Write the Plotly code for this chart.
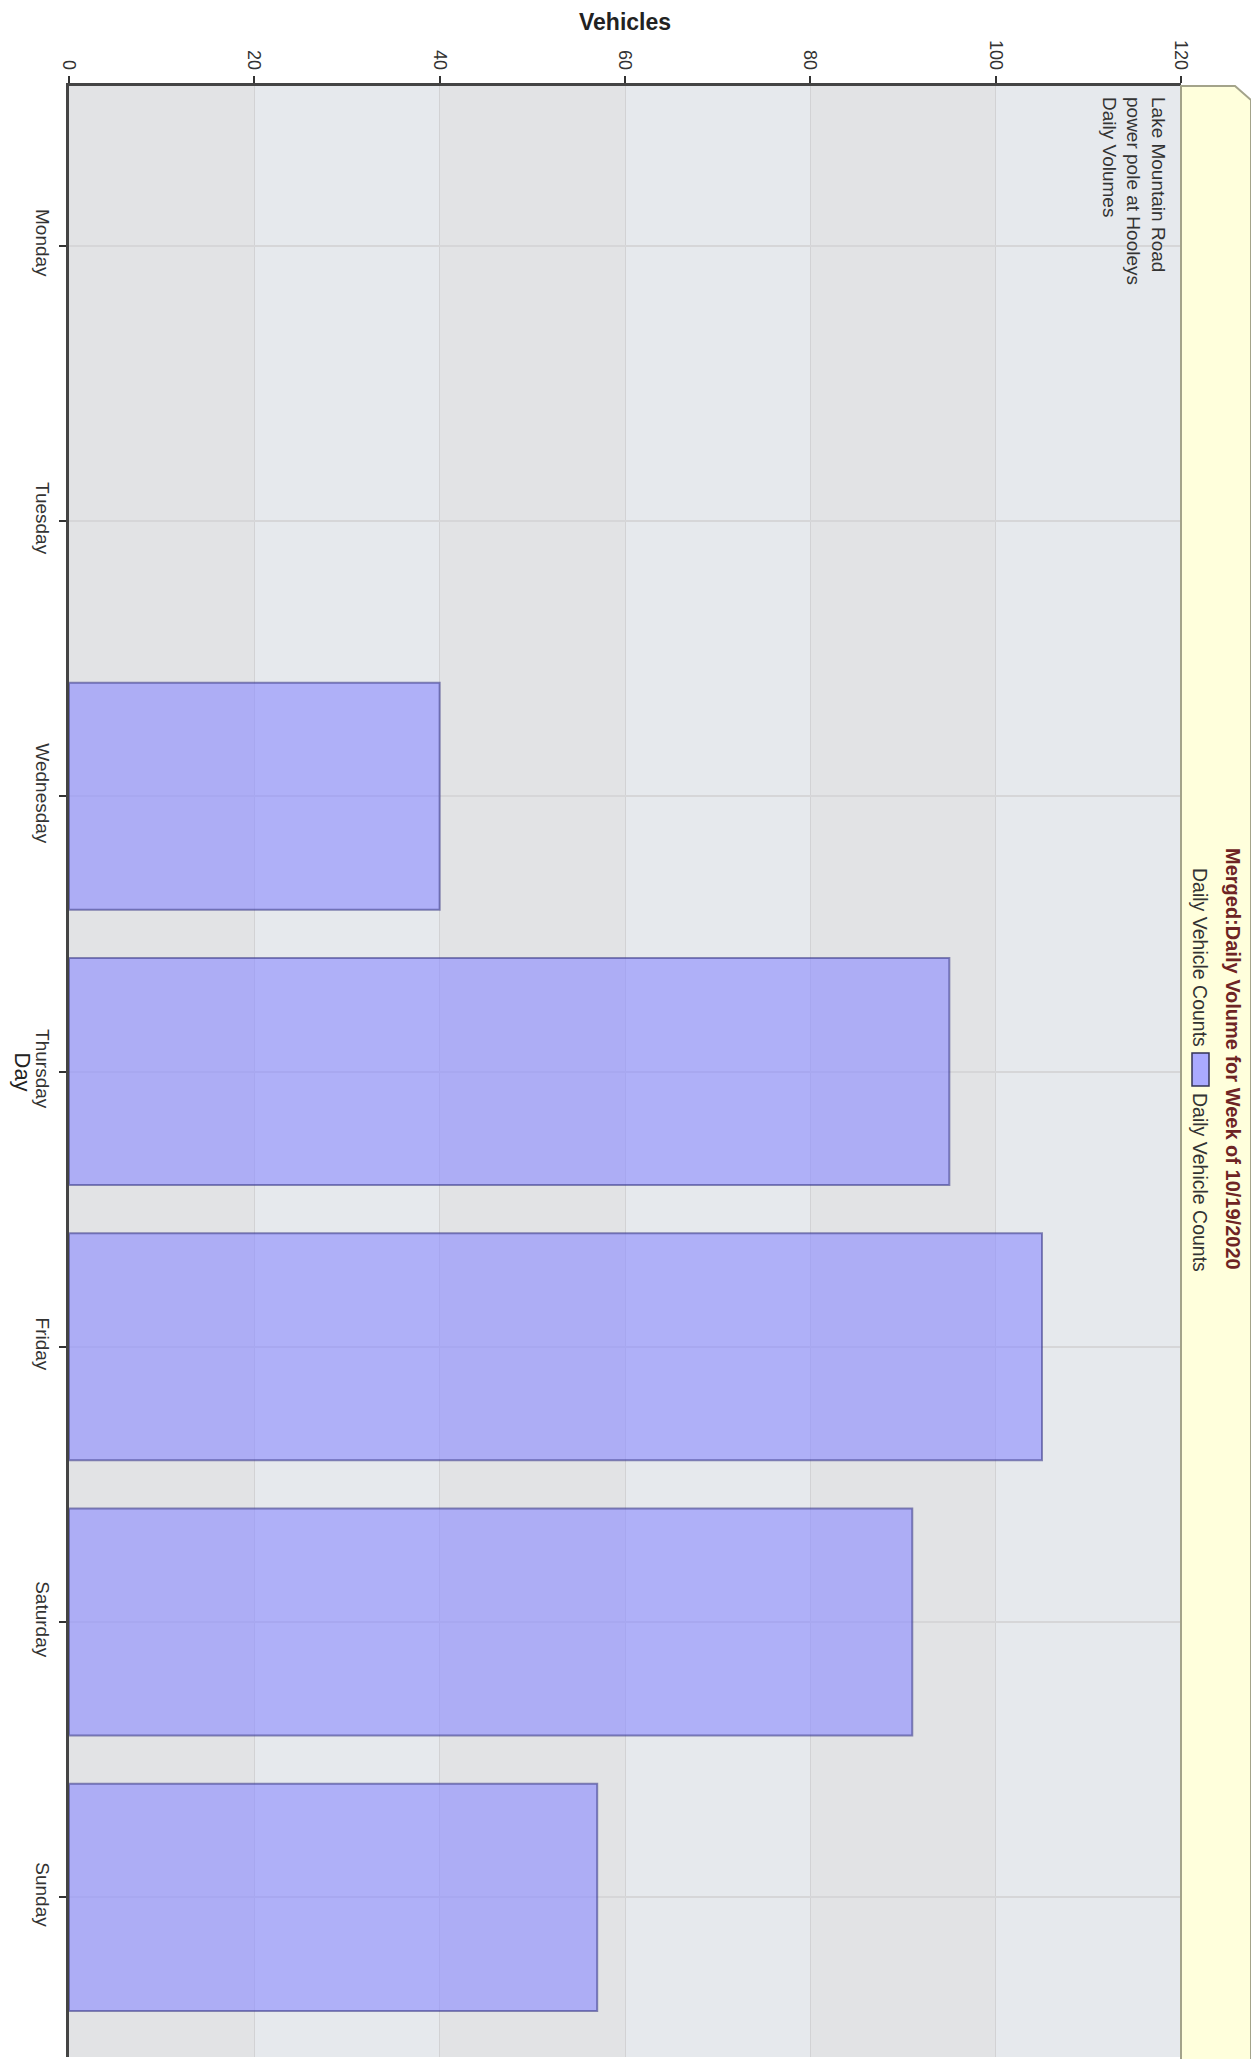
import plotly.graph_objects as go

days = ["Monday", "Tuesday", "Wednesday", "Thursday", "Friday", "Saturday", "Sunday"]
counts = [None, None, 40, 95, 105, 91, 57]
x_ticks = [0, 20, 40, 60, 80, 100, 120]
series_name = "Daily Vehicle Counts"
chart_title = "Merged:Daily Volume for Week of 10/19/2020"
site_note = "Lake Mountain Road<br>power pole at Hooleys<br>Daily Volumes"

OFF = 8  # default page body margin
W, H = 1259 - OFF, 2059 - OFF
L, R, T, B = 61, 78, 78, 2
pw, ph = W - L - R, H - T - B

def px_x(p):
    return (p - OFF - L) / pw

def px_y(p):
    return (H - B - (p - OFF)) / ph

FONT = "Liberation Sans, Arial, sans-serif"
TXT = "#333333"

fig = go.Figure()
fig.add_trace(go.Bar(
    y=days, x=counts, orientation="h", width=0.825,
    name=series_name,
    marker=dict(color="rgba(140,140,255,0.62)",
                line=dict(color="rgba(50,50,130,0.55)", width=2)),
    showlegend=False,
))

shapes = []
for i in range(len(x_ticks) - 1):
    shapes.append(dict(type="rect", xref="x", yref="paper",
                       x0=x_ticks[i], x1=x_ticks[i + 1], y0=0, y1=1,
                       fillcolor="#e2e3e5" if i % 2 == 0 else "#e6e9ed",
                       line=dict(width=0), layer="below"))
x_l = 1.0
x_r = px_x(1251)
x_c = px_x(1235)
y_c = px_y(100)
shapes.append(dict(type="path", xref="paper", yref="paper",
                   path=f"M {x_l} -0.01 L {x_l} 1 L {x_c} 1 L {x_r} {y_c} L {x_r} -0.01 Z",
                   fillcolor="#ffffdc", line=dict(color="#a3a38a", width=2), layer="above"))
shapes.append(dict(type="rect", xref="paper", yref="paper",
                   x0=px_x(1192), x1=px_x(1209), y0=px_y(1086), y1=px_y(1053),
                   fillcolor="#aaaaff", line=dict(color="#333355", width=1.5), layer="above"))

annotations = [
    dict(text="<b>Vehicles</b>", xref="paper", yref="paper", x=0.5, y=px_y(22),
         xanchor="center", yanchor="middle", showarrow=False,
         font=dict(family=FONT, size=23, color="#222222")),
    dict(text="Day", xref="paper", yref="paper", x=px_x(22), y=0.5,
         xanchor="center", yanchor="middle", showarrow=False, textangle=90,
         font=dict(family=FONT, size=22, color="#222222")),
    dict(text=site_note, xref="paper", yref="paper", x=px_x(1171), y=px_y(95),
         xanchor="right", yanchor="top", align="left", showarrow=False, textangle=90,
         font=dict(family=FONT, size=19, color=TXT)),
    dict(text=f"<b>{chart_title}</b>", xref="paper", yref="paper", x=px_x(1233), y=px_y(1059),
         xanchor="center", yanchor="middle", showarrow=False, textangle=90,
         font=dict(family=FONT, size=20, color="#6e2424")),
    dict(text=series_name, xref="paper", yref="paper", x=px_x(1200), y=px_y(957),
         xanchor="center", yanchor="middle", showarrow=False, textangle=90,
         font=dict(family=FONT, size=19.5, color=TXT)),
    dict(text=series_name, xref="paper", yref="paper", x=px_x(1200), y=px_y(1182),
         xanchor="center", yanchor="middle", showarrow=False, textangle=90,
         font=dict(family=FONT, size=19.5, color=TXT)),
]

fig.update_layout(
    width=W, height=H,
    margin=dict(l=L, r=R, t=T, b=B, autoexpand=False),
    paper_bgcolor="white", plot_bgcolor="#e4e5e8",
    font=dict(family=FONT, size=18, color=TXT),
    shapes=shapes, annotations=annotations,
)
fig.update_xaxes(
    side="top", range=[0, 120], tickvals=x_ticks, ticktext=[str(v) for v in x_ticks],
    tickangle=90, ticks="outside", ticklen=7, tickcolor="#333333", tickwidth=1.5,
    showline=True, linecolor="#444444", linewidth=2.5,
    showgrid=True, gridcolor="#d2d2d4", gridwidth=1, zeroline=False,
    tickfont=dict(family=FONT, size=18, color=TXT),
)
fig.update_yaxes(
    categoryorder="array", categoryarray=days, range=[6.58, -0.58],
    tickangle=90, ticks="outside", ticklen=7, tickcolor="#333333", tickwidth=1.5,
    showline=True, linecolor="#444444", linewidth=2.5,
    showgrid=True, gridcolor="#d6d6d8", gridwidth=1.5,
    tickfont=dict(family=FONT, size=19, color=TXT),
)

fig.write_html("out.html")
